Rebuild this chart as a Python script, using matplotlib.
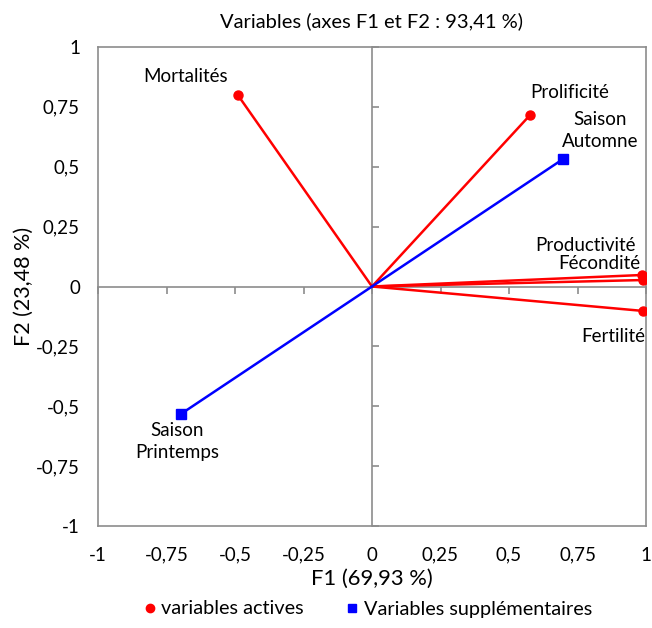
import numpy as np
import matplotlib.pyplot as plt
from matplotlib.lines import Line2D

plt.rcParams['font.family'] = ['Lato', 'DejaVu Sans']

# coordonnées des variables (cercle des corrélations)
act_names = ['Mortalités', 'Prolificité', 'Productivité', 'Fécondité', 'Fertilité']
act_x = [-0.49, 0.577, 0.985, 0.989, 0.989]
act_y = [0.80, 0.716, 0.048, 0.027, -0.102]

sup_names = ['Saison\nAutomne', 'Saison\nPrintemps']
sup_x = [0.697, -0.697]
sup_y = [0.532, -0.532]

ticks = [-1, -0.75, -0.5, -0.25, 0, 0.25, 0.5, 0.75, 1]
tick_labels = ['-1', '-0,75', '-0,5', '-0,25', '0', '0,25', '0,5', '0,75', '1']

grey = '#8c8c8c'
fig = plt.figure(figsize=(6.52, 6.28), dpi=100)
ax = fig.add_axes([98/652, 1-526/628, 548/652, 479/628])
ax.set_xlim(-1, 1)
ax.set_ylim(-1, 1)
ax.set_xticks(ticks)
ax.set_xticklabels(tick_labels)
ax.set_yticks(ticks)
ax.set_yticklabels(tick_labels)
ax.tick_params(length=0, labelsize=13.5)
ax.tick_params(axis='x', pad=15)
ax.tick_params(axis='y', pad=13)
for s in ax.spines.values():
    s.set_color(grey)
    s.set_linewidth(1.2)

# axes centraux avec graduations
ax2 = fig.add_axes(ax.get_position(), sharex=ax, sharey=ax, frameon=True)
ax2.patch.set_alpha(0)
ax2.spines['left'].set_position('zero')
ax2.spines['bottom'].set_position('zero')
ax2.spines['top'].set_visible(False)
ax2.spines['right'].set_visible(False)
for s in ['left', 'bottom']:
    ax2.spines[s].set_color(grey)
    ax2.spines[s].set_linewidth(1.2)
ax2.tick_params(axis='x', direction='out', length=5, color=grey, width=1.2, labelbottom=False)
ax2.tick_params(axis='y', direction='in', length=5, color=grey, width=1.2, labelleft=False)

for x, y in zip(act_x, act_y):
    ax2.plot([0, x], [0, y], color='#ff0000', lw=1.8, zorder=3)
ax2.plot(act_x, act_y, 'o', color='#ff0000', ms=6.5, ls='none', zorder=4)
for x, y in zip(sup_x, sup_y):
    ax2.plot([0, x], [0, y], color='#0000ff', lw=1.8, zorder=3)
ax2.plot(sup_x, sup_y, 's', color='#0000ff', ms=6.5, ls='none', zorder=4)

# étiquettes
lab_off = [(-0.192, 0.075), (0.146, 0.096), (-0.204, 0.125), (-0.16, 0.071), (-0.109, -0.105)]
for n, x, y, (dx, dy) in zip(act_names, act_x, act_y, lab_off):
    ax2.text(x + dx, y + dy, n, ha='center', va='center', fontsize=13.5)
sup_off = [(0.135, 0.121), (-0.015, -0.117)]
for n, x, y, (dx, dy) in zip(sup_names, sup_x, sup_y, sup_off):
    ax2.text(x + dx, y + dy, n, ha='center', va='center', fontsize=13.5, linespacing=1.35)

ax.set_title('Variables (axes F1 et F2 : 93,41 %)', fontsize=14.5, pad=14)
ax.set_xlabel('F1 (69,93 %)', fontsize=15.8)
ax.xaxis.set_label_coords(0.5, -(569 - 526) / 479)
ax.set_ylabel('F2 (23,48 %)', fontsize=15.5)
ax.yaxis.set_label_coords(-0.117, 0.5)

handles = [Line2D([], [], marker='o', color='#ff0000', ls='none', ms=6),
           Line2D([], [], marker='s', color='#0000ff', ls='none', ms=6)]
fig.legend(handles, ['variables actives', 'Variables supplémentaires'], loc='center',
           bbox_to_anchor=(0.561, 1-609/628), ncol=2, frameon=False, fontsize=14.3,
           handletextpad=0.1, columnspacing=1.9, handlelength=1.0, borderpad=0)

fig.savefig('out.png', dpi=100)
